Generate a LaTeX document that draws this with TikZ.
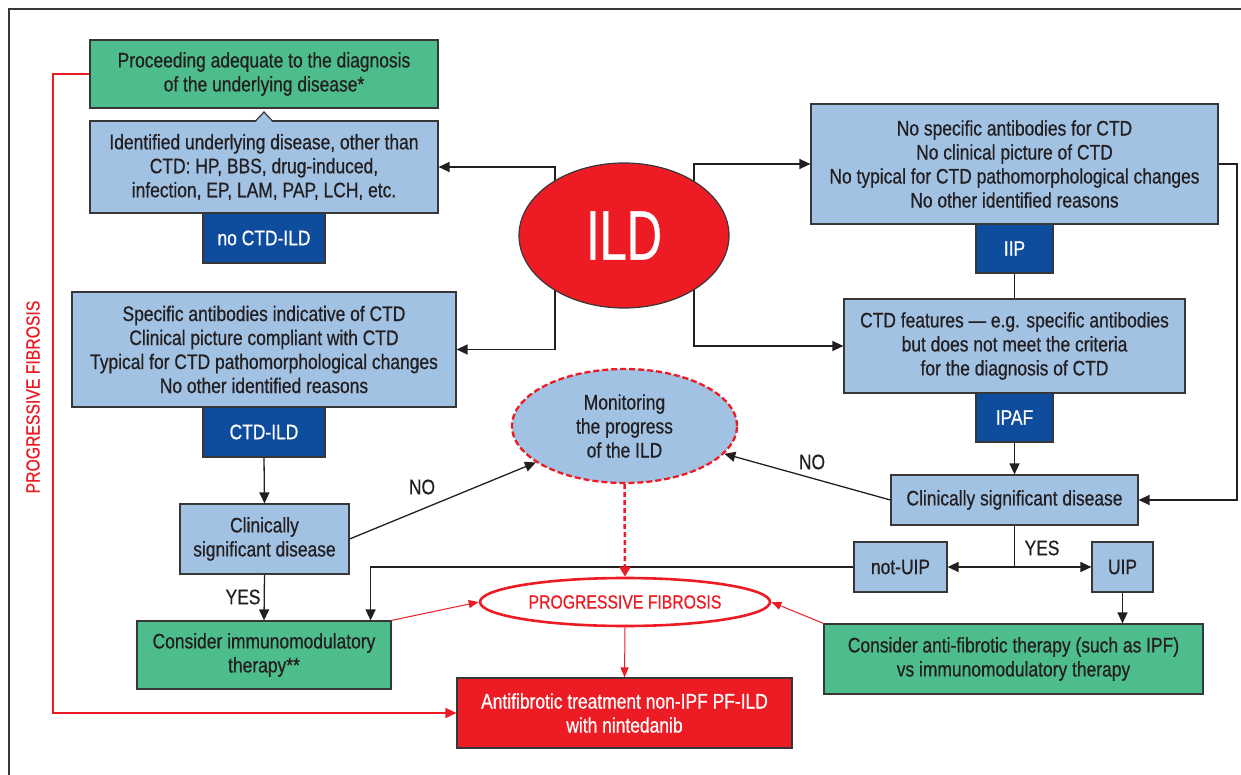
\documentclass[tikz,border=0pt]{standalone}
\usepackage{fontspec}
\setmainfont{Liberation Sans}[FakeStretch=0.83,FakeBold=0.6]
\usetikzlibrary{arrows.meta,shapes.geometric,calc,backgrounds}
\definecolor{lblue}{RGB}{162,194,228}
\definecolor{dblue}{RGB}{14,76,158}
\definecolor{grn}{RGB}{78,189,140}
\definecolor{rd}{RGB}{237,28,36}
\definecolor{ink}{RGB}{35,31,32}
\definecolor{edge}{RGB}{55,55,55}
\begin{document}
\begin{tikzpicture}[x=1pt,y=-1pt,
 font=\fontsize{21}{24}\selectfont,
 sz/.style 2 args={minimum width=#1pt,minimum height=#2pt},
 box/.style={draw=edge,line width=1.2pt,inner sep=0pt,align=center,text=ink},
 bluebox/.style={box,fill=lblue},
 greenbox/.style={box,fill=grn},
 darkbox/.style={box,fill=dblue,text=white},
 redbox/.style={box,fill=rd,text=white},
 arr/.style={draw=ink,line width=1.3pt,-{Triangle[length=11pt,width=10pt]}},
 ln/.style={draw=ink,line width=1.3pt},
 rarr/.style={draw=rd,line width=1pt,-{Triangle[length=10pt,width=8pt]}},
 lbl/.style={text=ink,inner sep=0pt},
 pftext/.style={text=rd,font=\fontsize{19}{22}\selectfont},
]
\useasboundingbox (0,0) rectangle (1241,775);
\clip (0,0) rectangle (1241,775);
\draw[edge,line width=1.3pt] (9,9) rectangle (1270,800);

% left column
\node[greenbox,sz={348}{68}] (g1) at (264,74) {Proceeding adequate to the diagnosis\\of the underlying disease*};
\node[bluebox,sz={348}{92}] (b1) at (264,167) {Identified underlying disease, other than\\CTD: HP, BBS, drug-induced,\\infection, EP, LAM, PAP, LCH, etc.};
\fill[lblue] (255.5,122.3) -- (264,112) -- (272.5,122.3) -- cycle;
\draw[edge,line width=1.2pt] (255.5,121) -- (264,112) -- (272.5,121);
\node[darkbox,sz={122}{50}] (d1) at (264,238) {no CTD-ILD};

\node[bluebox,sz={384}{115}] (b5) at (264,349.5) {Specific antibodies indicative of CTD\\Clinical picture compliant with CTD\\Typical for CTD pathomorphological changes\\No other identified reasons};
\node[darkbox,sz={122}{50}] (d5) at (264,432) {CTD-ILD};
\node[bluebox,sz={169}{70}] (b6) at (264.5,539) {Clinically\\significant disease};
\node[greenbox,sz={254}{68}] (g2) at (264,655) {Consider immunomodulatory\\therapy**};

% centre
\node[ellipse,draw=edge,line width=1.2pt,fill=rd,inner sep=0pt,sz={210}{145},text=white,font=\fontsize{70}{70}\selectfont] (ild) at (624,235.5) {\scalebox{0.84}[1]{ILD}};
\node[ellipse,draw=rd,line width=2.3pt,dash pattern=on 6pt off 3pt,fill=lblue,inner sep=0pt,sz={225}{114},align=center,text=ink] (mon) at (624.5,426) {Monitoring\\the progress\\of the ILD};
\node[ellipse,draw=rd,line width=2.6pt,fill=white,inner sep=0pt,sz={290}{48},pftext] (pf) at (625,602) {PROGRESSIVE FIBROSIS};
\node[redbox,sz={335}{70}] (af) at (624.5,713) {Antifibrotic treatment non-IPF PF-ILD\\with nintedanib};

% right column
\node[bluebox,sz={407}{120}] (b2) at (1014.5,164) {No specific antibodies for CTD\\No clinical picture of CTD\\No typical for CTD pathomorphological changes\\No other identified reasons};
\node[darkbox,sz={77}{49}] (d2) at (1014.5,248.5) {IIP};
\node[bluebox,sz={341}{94}] (b3) at (1014.5,346) {CTD features — e.g. specific antibodies\\but does not meet the criteria\\for the diagnosis of CTD};
\node[darkbox,sz={77}{49}] (d3) at (1014.5,417.5) {IPAF};
\node[bluebox,sz={247}{50}] (b4) at (1014.5,500) {Clinically significant disease};
\node[bluebox,sz={93}{50}] (nuip) at (900.5,567) {not-UIP};
\node[bluebox,sz={61}{50}] (uip) at (1122.5,567) {UIP};
\node[greenbox,sz={379}{70}] (g3) at (1013.5,659) {Consider anti-fibrotic therapy (such as IPF)\\vs immunomodulatory therapy};

% side label
\node[pftext,rotate=90] (side) at (33,397) {PROGRESSIVE FIBROSIS};

\coordinate (rc) at (1237,164);
\coordinate (yj) at (1014.5,567);
\coordinate (rl) at (53,74);

% connectors from ILD (behind the ellipse)
\begin{scope}[on background layer]
\draw[arr] ($(ild.center)+(-69,0)$) |- (b1.east);
\draw[arr] ($(ild.center)+(70,0)$) |- (b2.west);
\draw[arr] ($(ild.center)+(-69,0)$) |- (b5.east);
\draw[arr] ($(ild.center)+(70,0)$) |- (b3.west);
\end{scope}

\draw[ln] (d2.south) -- (b3.north);
\draw[arr] (d3.south) -- (b4.north);
\draw[arr] (b2.east) -- (rc) |- (b4.east);
\draw[ln] (b4.south) -- (yj);
\draw[arr] (yj) -- (nuip.east);
\draw[arr] (yj) -- (uip.west);
\draw[arr] (uip.south) -- (uip.south |- g3.north);
\draw[arr] (nuip.west) -| ($(g2.north east)+(-21,0)$);
\draw[arr] (b4.west) -- (mon);
\draw[arr] (b6.east) -- (mon);
\draw[arr] (d5.south) -- (b6.north);
\draw[arr] (b6.south) -- (g2.north);

\draw[draw=rd,line width=2.5pt,dash pattern=on 5pt off 3pt,-{Triangle[length=10pt,width=11pt]}] (mon.south) -- (pf.north);
\draw[rarr] (g2.north east) -- (pf.west);
\draw[rarr] (g3.north west) -- (pf.east);
\draw[rarr] (pf.south) -- (af.north);
\draw[draw=rd,line width=1.6pt,-{Triangle[length=11pt,width=10pt]}] (g1.west) -- (rl) |- (af.west);

% labels
\node[lbl] (no1) at (422,487) {NO};
\node[lbl] (no2) at (812,462) {NO};
\node[lbl] (yes1) at (243,597) {YES};
\node[lbl] (yes2) at (1042,548) {YES};
\end{tikzpicture}
\end{document}
